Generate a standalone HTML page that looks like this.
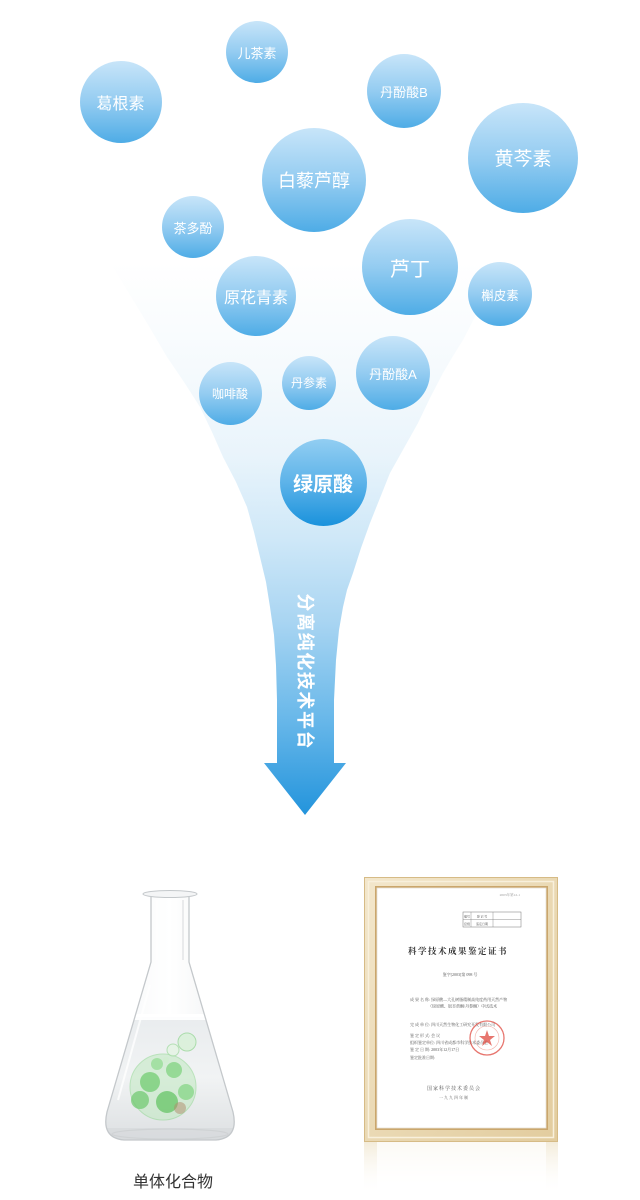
<!DOCTYPE html>
<html>
<head>
<meta charset="utf-8">
<style>
html,body{margin:0;padding:0;background:#fff;}
body{width:640px;height:1200px;overflow:hidden;position:relative;font-family:"Liberation Sans","Noto Sans CJK SC",sans-serif;}
svg{position:absolute;left:0;top:0;}
.c{position:absolute;border-radius:50%;background:linear-gradient(to bottom,#c8e5f9 0%,#94ccf1 50%,#4eace6 100%);display:flex;align-items:center;justify-content:center;color:#fff;white-space:nowrap;}
.arrowtxt{position:absolute;left:205px;top:659px;width:200px;height:24px;line-height:24px;text-align:center;color:#fff;font-weight:bold;font-size:18px;letter-spacing:1.6px;padding-left:1.6px;box-sizing:border-box;transform:rotate(90deg);transform-origin:100px 12px;}
.label{position:absolute;left:113px;top:1172px;width:120px;text-align:center;font-size:16px;color:#333;line-height:22px;}
</style>
</head>
<body>
<svg width="640" height="1200" viewBox="0 0 640 1200">
<defs>
<linearGradient id="fun" x1="0" y1="262" x2="0" y2="815" gradientUnits="userSpaceOnUse">
<stop offset="0" stop-color="#ffffff"/>
<stop offset="0.2" stop-color="#f5fafd"/>
<stop offset="0.35" stop-color="#e9f4fb"/>
<stop offset="0.5" stop-color="#cfe8f8"/>
<stop offset="0.65" stop-color="#a9d5f2"/>
<stop offset="0.82" stop-color="#6bb9ea"/>
<stop offset="1" stop-color="#2394dc"/>
</linearGradient>
<linearGradient id="glass" x1="0" y1="0" x2="1" y2="0">
<stop offset="0" stop-color="#e4e7e9"/>
<stop offset="0.15" stop-color="#f8f9fa"/>
<stop offset="0.5" stop-color="#ffffff"/>
<stop offset="0.85" stop-color="#f4f5f6"/>
<stop offset="1" stop-color="#dfe2e4"/>
</linearGradient>
<linearGradient id="liq" x1="0" y1="1015" x2="0" y2="1140" gradientUnits="userSpaceOnUse">
<stop offset="0" stop-color="#e9ecee"/>
<stop offset="0.5" stop-color="#f1f3f4"/>
<stop offset="1" stop-color="#dde0e2"/>
</linearGradient>
<clipPath id="fl">
<path d="M151,897 L151,962 L107,1112 Q101,1138 124,1140 L216,1140 Q239,1138 233,1112 L189,962 L189,897 Z"/>
</clipPath>
<linearGradient id="frame" x1="0" y1="0" x2="1" y2="1">
<stop offset="0" stop-color="#f3e7cc"/>
<stop offset="0.5" stop-color="#ead9b4"/>
<stop offset="1" stop-color="#e2cc9e"/>
</linearGradient>
<linearGradient id="refl" x1="0" y1="1142" x2="0" y2="1195" gradientUnits="userSpaceOnUse">
<stop offset="0" stop-color="#eadcbc" stop-opacity="0.55"/>
<stop offset="1" stop-color="#ffffff" stop-opacity="0"/>
</linearGradient>
</defs>

<!-- funnel + arrow -->
<path d="M110,262 L133,300 L150,328 L167,357 L184,382 L200,407 L212,432 L223,457 L236,482 L247,507 L254,532 L260,557 L266,582 L270,607 L274,635 L276,665 L277,700 L277,763 L264,763 L305,815 L346,763 L334,763 L334,700 L336,660 L339,630 L343,607 L347,590 L353,573 L361,548 L370,523 L380,498 L390,473 L404,448 L418,423 L430,398 L443,373 L453,356 L463,340 L477,313 L489,290 L503,262 Z" fill="url(#fun)"/>

<!-- flask -->
<path d="M151,897 L151,962 L107,1112 Q101,1138 124,1140 L216,1140 Q239,1138 233,1112 L189,962 L189,897 Z" fill="url(#glass)"/>
<g clip-path="url(#fl)">
<rect x="95" y="1017" width="150" height="130" fill="url(#liq)"/>
<rect x="95" y="1014" width="150" height="6" fill="#ffffff" opacity="0.9"/>
<circle cx="163" cy="1087" r="33" fill="#bfe8bf" opacity="0.55" stroke="#8fd68f" stroke-width="1"/>
<circle cx="150" cy="1082" r="10" fill="#72cc72" opacity="0.75"/>
<circle cx="174" cy="1070" r="8" fill="#7bd27b" opacity="0.7"/>
<circle cx="140" cy="1100" r="9" fill="#6cc86c" opacity="0.7"/>
<circle cx="167" cy="1102" r="11" fill="#66c466" opacity="0.75"/>
<circle cx="186" cy="1092" r="8" fill="#80d480" opacity="0.7"/>
<circle cx="157" cy="1064" r="6" fill="#8edb8e" opacity="0.7"/>
<circle cx="180" cy="1108" r="6" fill="#b08a6a" opacity="0.5"/>
<circle cx="187" cy="1042" r="9" fill="#d8f0d8" stroke="#9ad89a" stroke-width="1" opacity="0.8"/>
<circle cx="173" cy="1050" r="6" fill="#e4f4e4" stroke="#a6dca6" stroke-width="1" opacity="0.8"/>
<circle cx="166" cy="1060" r="3" fill="#d0eed0" opacity="0.8"/>
<rect x="95" y="1128" width="150" height="14" fill="#d6d9db" opacity="0.7"/>
</g>
<path d="M151,897 L151,962 L107,1112 Q101,1138 124,1140 L216,1140 Q239,1138 233,1112 L189,962 L189,897" fill="none" stroke="#c4c8cb" stroke-width="1.3"/>
<line x1="157" y1="900" x2="157" y2="960" stroke="#ffffff" stroke-width="2" opacity="0.9"/>
<line x1="183" y1="900" x2="183" y2="960" stroke="#d6d9dc" stroke-width="1"/>
<line x1="118" y1="1100" x2="150" y2="985" stroke="#ffffff" stroke-width="2" opacity="0.8"/>
<ellipse cx="170" cy="894" rx="27" ry="3.5" fill="#f4f5f6" stroke="#c4c8cb" stroke-width="1"/>
<ellipse cx="170" cy="1134" rx="58" ry="5" fill="none" stroke="#cfd2d4" stroke-width="1.2"/>

<!-- certificate reflection -->
<rect x="364" y="1142" width="194" height="53" fill="url(#refl)"/>
<rect x="377" y="1142" width="169" height="50" fill="#ffffff" opacity="0.7"/>
<!-- certificate frame -->
<rect x="364" y="877" width="194" height="265" fill="url(#frame)"/>
<rect x="364.5" y="877.5" width="193" height="264" fill="none" stroke="#d6bb86" stroke-width="1"/>
<rect x="368.5" y="881.5" width="185" height="256" fill="none" stroke="#f8f0dc" stroke-width="1.5"/>
<rect x="375" y="886" width="173" height="244" fill="#caa66c"/>
<rect x="377" y="888" width="169" height="240" fill="#ffffff"/>
<rect x="377" y="888" width="169" height="240" fill="none" stroke="#e6e2d8" stroke-width="0.8"/>

<g font-family="'Liberation Serif','Noto Serif CJK SC',serif" fill="#444">
<text x="520" y="896" font-size="3.5" text-anchor="end" fill="#999">2003年第12-1</text>
<rect x="463" y="912" width="58" height="15" fill="none" stroke="#777" stroke-width="0.5"/>
<line x1="463" y1="919.5" x2="521" y2="919.5" stroke="#777" stroke-width="0.4"/>
<line x1="471" y1="912" x2="471" y2="927" stroke="#777" stroke-width="0.4"/>
<line x1="493" y1="912" x2="493" y2="927" stroke="#777" stroke-width="0.4"/>
<text x="467" y="917.5" font-size="3" text-anchor="middle">编号</text>
<text x="467" y="925" font-size="3" text-anchor="middle">密级</text>
<text x="482" y="917.5" font-size="3" text-anchor="middle">登 记 号</text>
<text x="482" y="925" font-size="3" text-anchor="middle">鉴定日期</text>
<text x="458" y="954" font-size="8.5" font-weight="bold" text-anchor="middle" letter-spacing="1.5" fill="#333">科学技术成果鉴定证书</text>
<text x="460" y="976" font-size="4" text-anchor="middle" fill="#555">鉴字[2003]第 098 号</text>
<text x="410" y="1001" font-size="4" fill="#555">成 果 名 称: 绿原酸—大孔树脂精制高纯度药用天然产物</text>
<text x="428" y="1007.5" font-size="4" fill="#555">（绿原酸、银杏黄酮/丹参酮）中试技术</text>
<text x="410" y="1026" font-size="4" fill="#555">完 成 单 位: 四川天然生物化工研究开发有限公司</text>
<text x="410" y="1037" font-size="4" fill="#555">鉴 定 形 式:          会 议</text>
<text x="410" y="1044" font-size="4" fill="#555">组织鉴定单位: 四川省成都市科学技术委员会</text>
<text x="410" y="1051" font-size="4" fill="#555">鉴 定 日 期: 2003年12月17日</text>
<text x="410" y="1059" font-size="4" fill="#555">鉴定批准日期:</text>
<text x="454" y="1090" font-size="5" text-anchor="middle" letter-spacing="1" fill="#555">国家科学技术委员会</text>
<text x="454" y="1099" font-size="4" text-anchor="middle" letter-spacing="1" fill="#666">一九九四年制</text>
</g>
<g opacity="0.75">
<circle cx="487" cy="1038" r="17" fill="none" stroke="#e0493f" stroke-width="1.3"/>
<circle cx="487" cy="1038" r="12" fill="none" stroke="#ef9a90" stroke-width="0.6"/>
<polygon points="487,1030 489,1036 495,1036 490,1040 492,1046 487,1042 482,1046 484,1040 479,1036 485,1036" fill="#e0493f"/>
</g>
</svg>

<div class="c" style="left:79.5px;top:60.5px;width:82px;height:82px;font-size:16px;">葛根素</div>
<div class="c" style="left:226px;top:21px;width:62px;height:62px;font-size:13px;">儿茶素</div>
<div class="c" style="left:367px;top:54px;width:74px;height:74px;font-size:13px;">丹酚酸B</div>
<div class="c" style="left:468px;top:102.5px;width:110px;height:110px;font-size:19px;">黄芩素</div>
<div class="c" style="left:262px;top:127.5px;width:104px;height:104px;font-size:18px;">白藜芦醇</div>
<div class="c" style="left:162px;top:196px;width:62px;height:62px;font-size:13px;">茶多酚</div>
<div class="c" style="left:362px;top:219px;width:96px;height:96px;font-size:20px;">芦丁</div>
<div class="c" style="left:468px;top:262px;width:64px;height:64px;font-size:12.5px;">槲皮素</div>
<div class="c" style="left:216px;top:256px;width:80px;height:80px;font-size:16px;">原花青素</div>
<div class="c" style="left:198.5px;top:362px;width:63px;height:63px;font-size:12px;">咖啡酸</div>
<div class="c" style="left:282px;top:355.5px;width:54px;height:54px;font-size:12px;">丹参素</div>
<div class="c" style="left:356px;top:336px;width:74px;height:74px;font-size:13px;">丹酚酸A</div>
<div class="c" style="left:279.5px;top:439px;width:87px;height:87px;font-size:20px;font-weight:bold;background:linear-gradient(to bottom,#92cef2 0%,#5db3e9 50%,#1a92dc 100%);">绿原酸</div>

<div class="arrowtxt">分离纯化技术平台</div>
<div class="label">单体化合物</div>
</body>
</html>
